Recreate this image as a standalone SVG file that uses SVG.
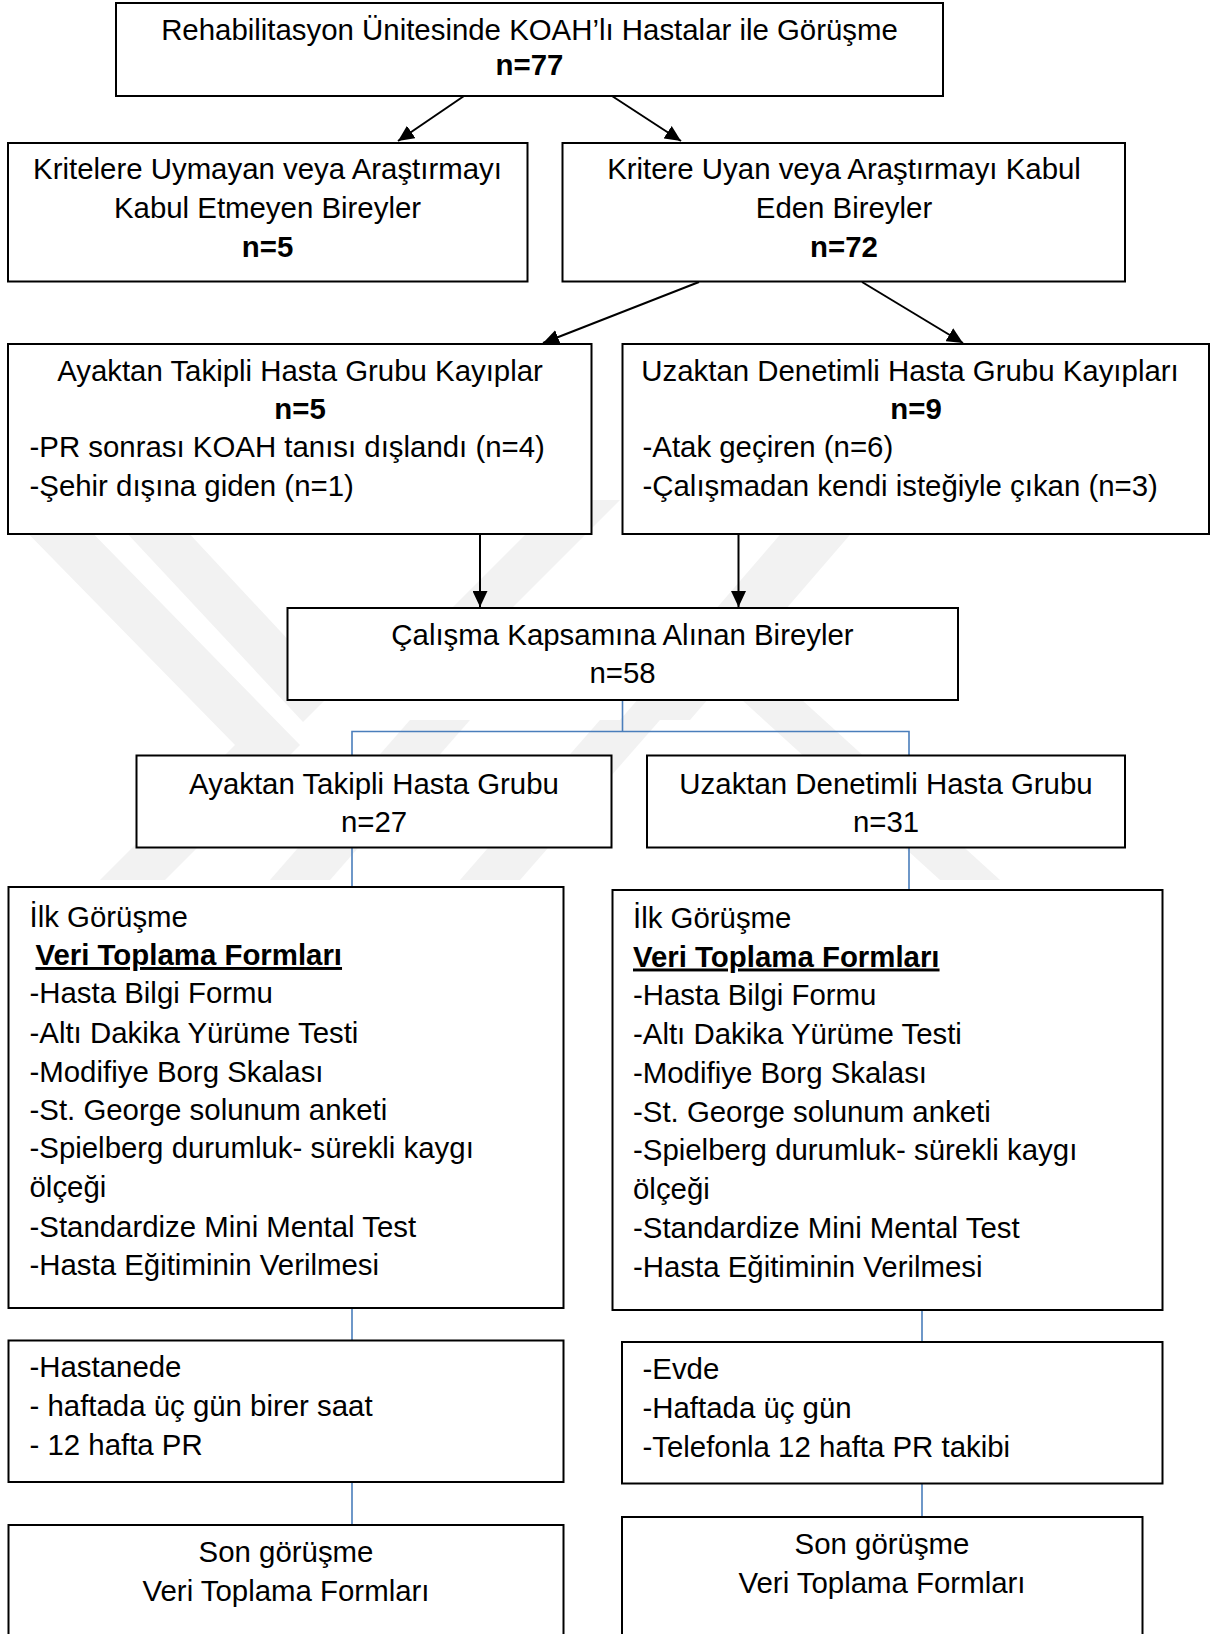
<svg xmlns="http://www.w3.org/2000/svg" width="1225" height="1634" viewBox="0 0 1225 1634">
<style>
.box{fill:#fff;stroke:#000;stroke-width:2}
.t{font-family:"Liberation Sans",Arial,sans-serif;font-size:29.4px;fill:#000}
.c{text-anchor:middle}
.b{font-weight:bold}
.u{text-decoration:underline}
.arrow{stroke:#000;stroke-width:2;fill:none;marker-end:url(#ah)}
.blue{stroke:#4a7ebb;stroke-width:1.6;fill:none}
.wm{fill:#f2f2f2}
</style>
<defs>
<marker id="ah" markerUnits="userSpaceOnUse" markerWidth="16" markerHeight="15" refX="16" refY="7.5" orient="auto">
<path d="M0,0 L16,7.5 L0,15 z" fill="#000"/>
</marker>
</defs>
<rect width="1225" height="1634" fill="#fff"/>
<g id="watermark">
<polygon class="wm" points="10,515 75,515 300,745 165,880 100,880 235,745"/>
<polygon class="wm" points="110,515 172,515 335,690 303,722"/>
<polygon class="wm" points="410,720 470,720 330,880 270,880"/>
<polygon class="wm" points="600,720 660,720 520,880 460,880"/>
<polygon class="wm" points="560,500 620,500 480,640 420,640"/>
<polygon class="wm" points="810,500 880,500 690,720 620,720"/>
<polygon class="wm" points="742,700 802,700 1000,880 940,880"/>
</g>
<g id="connectors">
<line class="arrow" x1="464" y1="96" x2="398" y2="141"/>
<line class="arrow" x1="612" y1="96" x2="681" y2="141"/>
<line class="arrow" x1="699" y1="282" x2="543" y2="343"/>
<line class="arrow" x1="862" y1="282" x2="963" y2="343"/>
<line class="arrow" x1="480" y1="534" x2="480" y2="607"/>
<line class="arrow" x1="738.5" y1="534" x2="738.5" y2="607"/>
<polyline class="blue" points="622.5,700 622.5,731.5"/>
<polyline class="blue" points="352,755 352,731.5 909,731.5 909,755"/>
<line class="blue" x1="352" y1="848" x2="352" y2="887"/>
<line class="blue" x1="909" y1="848" x2="909" y2="890"/>
<line class="blue" x1="352" y1="1308" x2="352" y2="1340"/>
<line class="blue" x1="922" y1="1310" x2="922" y2="1342"/>
<line class="blue" x1="352" y1="1482" x2="352" y2="1525"/>
<line class="blue" x1="922" y1="1483" x2="922" y2="1517"/>
</g>
<g id="n1">
<rect class="box" x="116" y="3" width="827" height="93"/>
<text class="t c" x="529.5" y="40">Rehabilitasyon Ünitesinde KOAH’lı Hastalar ile Görüşme</text>
<text class="t c b" x="529.5" y="74.5">n=77</text>
</g>
<g id="n2">
<rect class="box" x="8" y="143" width="519.5" height="138.5"/>
<text class="t c" x="267.5" y="178.5">Kritelere Uymayan veya Araştırmayı</text>
<text class="t c" x="267.5" y="218">Kabul Etmeyen Bireyler</text>
<text class="t c b" x="267.5" y="257">n=5</text>
</g>
<g id="n3">
<rect class="box" x="562.5" y="143" width="562.5" height="138.5"/>
<text class="t c" x="844" y="178.5">Kritere Uyan veya Araştırmayı Kabul</text>
<text class="t c" x="844" y="218">Eden Bireyler</text>
<text class="t c b" x="844" y="257">n=72</text>
</g>
<g id="n4">
<rect class="box" x="8" y="344" width="583.5" height="190"/>
<text class="t c" x="300" y="380.5">Ayaktan Takipli Hasta Grubu Kayıplar</text>
<text class="t c b" x="300" y="418.5">n=5</text>
<text class="t" x="29.5" y="457">-PR sonrası KOAH tanısı dışlandı (n=4)</text>
<text class="t" x="29.5" y="496">-Şehir dışına giden (n=1)</text>
</g>
<g id="n5">
<rect class="box" x="622.5" y="344" width="586.5" height="190"/>
<text class="t c" x="910" y="380.5">Uzaktan Denetimli Hasta Grubu Kayıpları</text>
<text class="t c b" x="916" y="418.5">n=9</text>
<text class="t" x="642.5" y="457">-Atak geçiren (n=6)</text>
<text class="t" x="642.5" y="496">-Çalışmadan kendi isteğiyle çıkan (n=3)</text>
</g>
<g id="n6">
<rect class="box" x="287.5" y="608" width="670.5" height="92"/>
<text class="t c" x="622.5" y="644.5">Çalışma Kapsamına Alınan Bireyler</text>
<text class="t c" x="622.5" y="683">n=58</text>
</g>
<g id="n7">
<rect class="box" x="136.5" y="755.5" width="475" height="92"/>
<text class="t c" x="374" y="794">Ayaktan Takipli Hasta Grubu</text>
<text class="t c" x="374" y="832">n=27</text>
</g>
<g id="n8">
<rect class="box" x="647" y="755.5" width="478" height="92"/>
<text class="t c" x="886" y="794">Uzaktan Denetimli Hasta Grubu</text>
<text class="t c" x="886" y="832">n=31</text>
</g>
<g id="n9">
<rect class="box" x="8.5" y="887" width="555" height="421"/>
<text class="t" x="29.5" y="926.5">İlk Görüşme</text>
<text class="t b u" x="35.5" y="965">Veri Toplama Formları</text>
<text class="t" x="29.5" y="1003">-Hasta Bilgi Formu</text>
<text class="t" x="29.5" y="1042.5">-Altı Dakika Yürüme Testi</text>
<text class="t" x="29.5" y="1081.5">-Modifiye Borg Skalası</text>
<text class="t" x="29.5" y="1120">-St. George solunum anketi</text>
<text class="t" x="29.5" y="1158">-Spielberg durumluk- sürekli kaygı</text>
<text class="t" x="29.5" y="1197">ölçeği</text>
<text class="t" x="29.5" y="1236.5">-Standardize Mini Mental Test</text>
<text class="t" x="29.5" y="1275">-Hasta Eğitiminin Verilmesi</text>
</g>
<g id="n10">
<rect class="box" x="612.5" y="890" width="550" height="420"/>
<text class="t" x="633" y="928">İlk Görüşme</text>
<text class="t b u" x="633" y="966.5">Veri Toplama Formları</text>
<text class="t" x="633" y="1004.5">-Hasta Bilgi Formu</text>
<text class="t" x="633" y="1044">-Altı Dakika Yürüme Testi</text>
<text class="t" x="633" y="1083">-Modifiye Borg Skalası</text>
<text class="t" x="633" y="1121.5">-St. George solunum anketi</text>
<text class="t" x="633" y="1159.5">-Spielberg durumluk- sürekli kaygı</text>
<text class="t" x="633" y="1198.5">ölçeği</text>
<text class="t" x="633" y="1238">-Standardize Mini Mental Test</text>
<text class="t" x="633" y="1276.5">-Hasta Eğitiminin Verilmesi</text>
</g>
<g id="n11">
<rect class="box" x="8.5" y="1340.5" width="555" height="141.5"/>
<text class="t" x="29.5" y="1377">-Hastanede</text>
<text class="t" x="29.5" y="1416">- haftada üç gün birer saat</text>
<text class="t" x="29.5" y="1455">- 12 hafta PR</text>
</g>
<g id="n12">
<rect class="box" x="622" y="1342" width="540.5" height="141.5"/>
<text class="t" x="642.5" y="1378.5">-Evde</text>
<text class="t" x="642.5" y="1417.5">-Haftada üç gün</text>
<text class="t" x="642.5" y="1456.5">-Telefonla 12 hafta PR takibi</text>
</g>
<g id="n13">
<rect class="box" x="8.5" y="1525" width="555" height="130"/>
<text class="t c" x="286" y="1561.5">Son görüşme</text>
<text class="t c" x="286" y="1601">Veri Toplama Formları</text>
</g>
<g id="n14">
<rect class="box" x="622" y="1517" width="520.5" height="140"/>
<text class="t c" x="882" y="1554">Son görüşme</text>
<text class="t c" x="882" y="1593">Veri Toplama Formları</text>
</g>
</svg>
